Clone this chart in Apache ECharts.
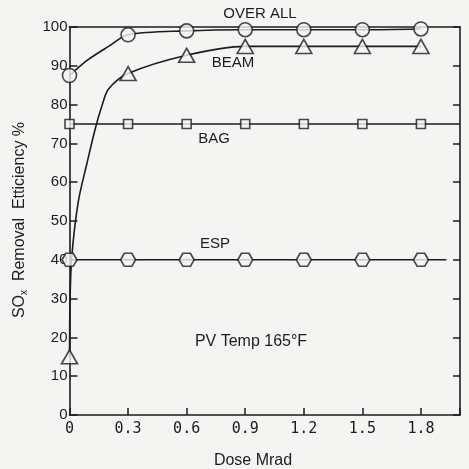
<!DOCTYPE html>
<html>
<head>
<meta charset="utf-8">
<script src="https://cdn.jsdelivr.net/npm/echarts@6/dist/echarts.min.js"></script>
<style>
html,body{margin:0;padding:0;background:#f4f4f2;}
#c{width:469px;height:469px;}
</style>
</head>
<body>
<div id="c"></div>
<script>
// ---- data ----
var doses = [0, 0.3, 0.6, 0.9, 1.2, 1.5, 1.8];
var overallValues = [87.5, 98, 99, 99.3, 99.3, 99.3, 99.5];
var beamValues = [15, 88, 92.7, 95, 95, 95, 95];
var bagValues = [75, 75, 75, 75, 75, 75, 75];
var espValues = [40, 40, 40, 40, 40, 40, 40];

// drawn curves
var overallCurveDose = [0, 0.09, 0.2, 0.3, 0.6, 0.9, 1.2, 1.5, 1.8];
var overallCurveVal  = [87.5, 91.4, 95, 98, 99, 99.3, 99.3, 99.3, 99.5];
var beamCurveDose = [0, 0.003, 0.012, 0.045, 0.09, 0.13, 0.165, 0.2, 0.3, 0.6, 0.9, 1.2, 1.5, 1.8];
var beamCurveVal  = [15, 30, 41, 55, 65, 73.4, 79.5, 84, 88, 92.7, 95, 95, 95, 95];
var bagLineDose = [0, 2.0];
var bagLineVal = [75, 75];
var espLineDose = [0, 1.93];
var espLineVal = [40, 40];

var xTicks = ['0', '0.3', '0.6', '0.9', '1.2', '1.5', '1.8'];

function pairs(xs, ys) { return xs.map(function (x, i) { return [x, ys[i]]; }); }

var ink = '#1c1c1c';
var bg = '#f4f4f2';
var font = 'Liberation Sans';

var chart = echarts.init(document.getElementById('c'), null, {renderer: 'canvas'});

function lineSeries(data, smooth) {
  return {
    type: 'line', data: data, smooth: smooth, showSymbol: false, symbol: 'none',
    lineStyle: {color: ink, width: 1.6}, z: 2, animation: false
  };
}
function markerSeries(data, symbol, size) {
  return {
    type: 'scatter', data: data, symbol: symbol, symbolSize: size,
    itemStyle: {color: bg, borderColor: ink, borderWidth: 1.6}, z: 5, animation: false
  };
}

var hexPath = 'path://M-1,0 L-0.5,-0.87 L0.5,-0.87 L1,0 L0.5,0.87 L-0.5,0.87 Z';

chart.setOption({
  backgroundColor: bg,
  animation: false,
  grid: {left: 69.5, right: 9, top: 27, bottom: 54},
  xAxis: [{
    type: 'value', min: 0, max: 2.0, interval: 0.3,
    axisLine: {show: true, onZero: false, lineStyle: {color: ink, width: 1.6}},
    axisTick: {show: true, inside: true, length: 7, lineStyle: {color: ink, width: 1.5}},
    splitLine: {show: false},
    axisLabel: {
      color: ink, fontFamily: 'DejaVu Sans Mono', fontSize: 15, margin: 7,
      formatter: function (v) {
        var i = Math.round(v / 0.3);
        if (Math.abs(v - i * 0.3) > 1e-6 || i >= xTicks.length) return '';
        return xTicks[i];
      }
    }
  }, {
    type: 'value', min: 0, max: 2.0, position: 'top',
    axisLine: {show: true, onZero: false, lineStyle: {color: ink, width: 1.6}},
    axisTick: {show: false}, axisLabel: {show: false}, splitLine: {show: false}
  }],
  yAxis: [{
    type: 'value', min: 0, max: 100, interval: 10,
    axisLine: {show: true, onZero: false, lineStyle: {color: ink, width: 1.6}},
    axisTick: {show: true, inside: true, length: 8, lineStyle: {color: ink, width: 1.5}},
    splitLine: {show: false},
    axisLabel: {color: ink, fontFamily: font, fontSize: 15, margin: 2}
  }, {
    type: 'value', min: 0, max: 100, interval: 10, position: 'right',
    axisLine: {show: true, onZero: false, lineStyle: {color: ink, width: 1.6}},
    axisTick: {show: true, inside: true, length: 7, lineStyle: {color: ink, width: 1.5}},
    axisLabel: {show: false}, splitLine: {show: false}
  }],
  series: [
    lineSeries(pairs(bagLineDose, bagLineVal), false),
    lineSeries(pairs(espLineDose, espLineVal), false),
    lineSeries(pairs(overallCurveDose, overallCurveVal), 0.3),
    lineSeries(pairs(beamCurveDose, beamCurveVal), 0.3),
    markerSeries(pairs(doses, bagValues), 'rect', 9),
    markerSeries(pairs(doses, espValues), hexPath, [15, 13]),
    markerSeries(pairs(doses, overallValues), 'circle', 14),
    markerSeries(pairs(doses, beamValues), 'triangle', [16, 14])
  ],
  graphic: [
    {type: 'text', x: 260, y: 14, style: {text: 'OVER ALL', fill: ink, font: '15px ' + font, textAlign: 'center', textVerticalAlign: 'middle'}},
    {type: 'text', x: 233, y: 63, style: {text: 'BEAM', fill: ink, font: '15px ' + font, textAlign: 'center', textVerticalAlign: 'middle'}},
    {type: 'text', x: 214, y: 139, style: {text: 'BAG', fill: ink, font: '15px ' + font, textAlign: 'center', textVerticalAlign: 'middle'}},
    {type: 'text', x: 215, y: 244, style: {text: 'ESP', fill: ink, font: '15px ' + font, textAlign: 'center', textVerticalAlign: 'middle'}},
    {type: 'text', x: 251, y: 342, style: {text: 'PV Temp 165°F', fill: ink, font: '16px ' + font, textAlign: 'center', textVerticalAlign: 'middle'}},
    {type: 'text', x: 253, y: 461, style: {text: 'Dose Mrad', fill: ink, font: '16px ' + font, textAlign: 'center', textVerticalAlign: 'middle'}},
    {type: 'text', x: 20, y: 220, rotation: Math.PI / 2,
      style: {
        text: '{a|SO}{b|x}{a|  Removal  Etticiency %}',
        textAlign: 'center', textVerticalAlign: 'middle',
        rich: {
          a: {fontFamily: font, fontSize: 16, fill: ink, color: ink},
          b: {fontFamily: font, fontSize: 10, fill: ink, color: ink, padding: [8, 0, 0, 0]}
        }
      }}
  ]
});
</script>
</body>
</html>
